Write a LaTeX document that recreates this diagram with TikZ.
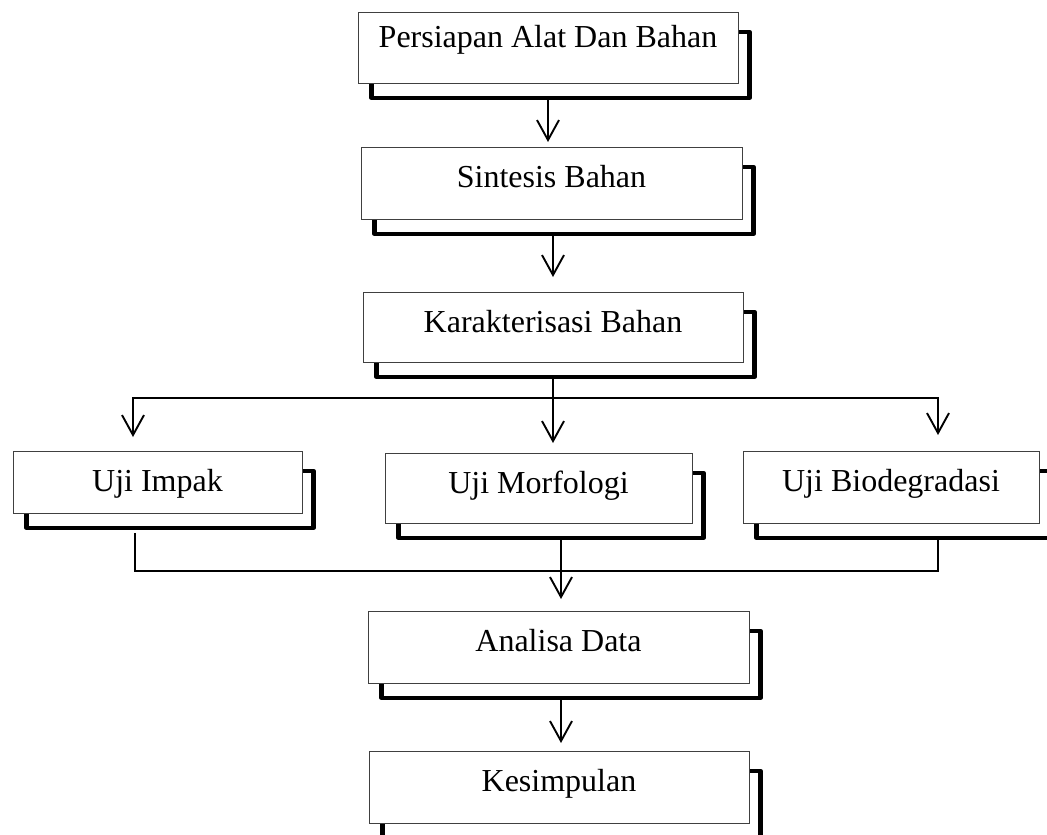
\documentclass[tikz,border=0pt]{standalone}
\usepackage{fontspec}
\setmainfont{Liberation Serif}
\usetikzlibrary{arrows.meta}

\pgfdeclarelayer{back}
\pgfsetlayers{back,main}

\tikzset{
  stepbox/.style={draw=black!75, line width=0.8pt, fill=white, anchor=north,
    inner xsep=0pt, inner ysep=0pt, text height=40pt, text depth=32pt,
    font=\fontsize{32}{38}\selectfont},
  backline/.style={line width=4.5pt, line join=round, line cap=round},
  link/.style={line width=1.9pt, -{Straight Barb[length=20pt,width=22pt]}},
  bus/.style={line width=1.5pt}
}

\begin{document}
\begin{tikzpicture}[x=1pt, y=-1pt]
\useasboundingbox (0,0) rectangle (1047,835);

\node[stepbox, minimum width=380pt, text height=35pt, text depth=36pt] (prep) at (548,12) {Persiapan Alat Dan Bahan};
\node[stepbox, minimum width=381pt] (sint) at (551.5,147) {Sintesis Bahan};
\node[stepbox, minimum width=380pt, text depth=30pt] (kar) at (553,292) {Karakterisasi Bahan};
\node[stepbox, minimum width=289pt, text depth=22pt] (impak) at (157.5,451) {Uji Impak};
\node[stepbox, minimum width=307pt, text depth=30pt] (morf) at (538.5,453) {Uji Morfologi};
\node[stepbox, minimum width=296pt] (bio) at (891,451) {Uji Biodegradasi};
\node[stepbox, minimum width=381pt] (anal) at (558.5,611) {Analisa Data};
\node[stepbox, minimum width=380pt] (kes) at (559,751) {Kesimpulan};

% shadows behind the boxes
\begin{pgfonlayer}{back}
\foreach \n in {prep,sint,kar,impak,morf,bio,anal,kes}
  \draw[backline] ([shift={(14pt,-20pt)}]\n.north west) rectangle ([shift={(11pt,-14pt)}]\n.south east);
\end{pgfonlayer}

% split and merge points
\coordinate (split) at (553,398);
\coordinate (splitL) at (133,398);
\coordinate (splitR) at (938,398);
\coordinate (busL) at (135,571);
\coordinate (busR) at (938,571);
\coordinate (merge) at (561,571);

\draw[link, shorten <=16pt, shorten >=5pt] (prep.south) -- (prep.south |- sint.north);
\draw[link, shorten <=16pt, shorten >=15pt] (sint.south -| kar.north) -- (kar.north);
\draw[link, shorten <=16pt, shorten >=10pt] (kar.south) -- (kar.south |- morf.north);
\draw[link, shorten >=14pt] (split) -| (splitL |- impak.north);
\draw[link, shorten >=16pt] (split) -| (splitR |- bio.north);
\draw[bus, shorten <=19pt, shorten >=15pt] (busL |- impak.south) -- (busL) -- (busR) -- (busR |- bio.south);
\draw[link, shorten <=15pt, shorten >=12pt] (merge |- morf.south) -- (merge |- anal.north);
\draw[link, shorten <=15pt, shorten >=8pt] (merge |- anal.south) -- (merge |- kes.north);
\end{tikzpicture}
\end{document}
